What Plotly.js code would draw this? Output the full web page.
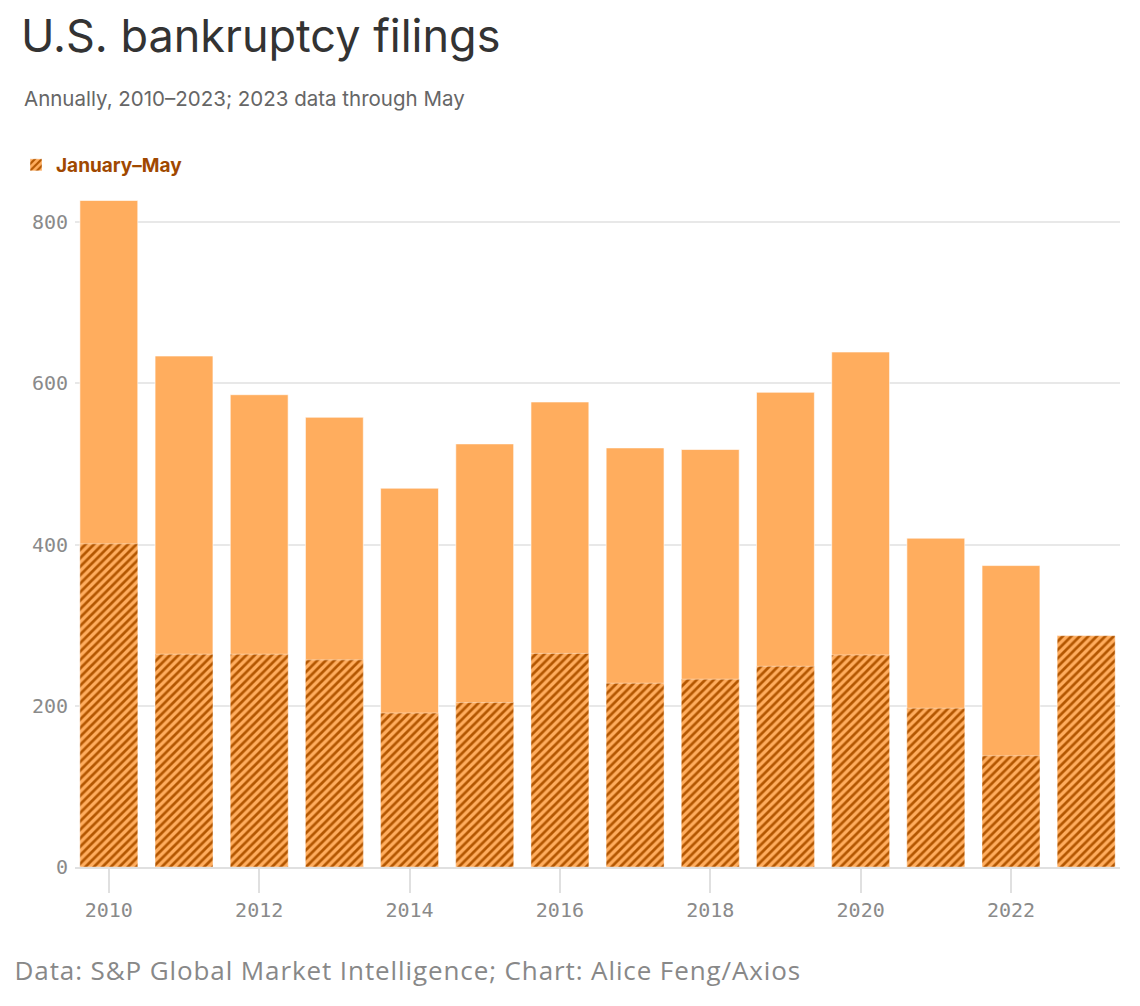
<!DOCTYPE html>
<html>
<head>
<meta charset="utf-8">
<script src="https://cdn.plot.ly/plotly-3.0.1.min.js"></script>
<style>
html,body{margin:0;padding:0;background:#fff;}
#chart{width:1140px;height:1006px;}
g.annotation[data-index="1"] text{letter-spacing:0.9px;}
</style>
</head>
<body>
<div id="chart"></div>
<script>
const years = [2010,2011,2012,2013,2014,2015,2016,2017,2018,2019,2020,2021,2022,2023];
const annualTotal = [827,634,586,558,470,525,577,520,518,589,639,408,374,287];
const janToMay = [401,264,264,257,191,204,265,228,233,249,263,197,138,287];
const yTicks = [0,200,400,600,800];
const xTicks = [2010,2012,2014,2016,2018,2020,2022];

const light = '#ffad5e';
const dark = '#b35600';

const traces = [
  {
    type: 'bar', x: years, y: annualTotal, name: 'Full year',
    marker: {color: light, line: {color: 'rgba(255,255,255,0.6)', width: 1}},
    showlegend: false, hoverinfo: 'x+y'
  },
  {
    type: 'bar', x: years, y: janToMay, name: 'January–May',
    marker: {color: light, line: {color: 'rgba(255,255,255,0.4)', width: 1},
      pattern: {shape: '/', fgcolor: dark, bgcolor: light, size: 6, solidity: 0.45}},
    showlegend: true, hoverinfo: 'x+y'
  }
];

const pl = 75, pt = 190, pw = 1045, ph = 677;
const px = v => (v - pl) / pw;
const py = v => (pt + ph - v) / ph;

const layout = {
  width: 1140, height: 1006,
  margin: {l: pl, r: 1140 - pl - pw, t: pt, b: 1006 - pt - ph},
  paper_bgcolor: '#fff', plot_bgcolor: '#fff',
  barmode: 'overlay', bargap: 0.23,
  font: {family: 'Inter, Roboto, sans-serif'},
  title: {
    text: 'U.S. bankruptcy filings',
    xref: 'container', yref: 'container', x: 21/1140, xanchor: 'left',
    y: 1 - 36/1006, yanchor: 'middle',
    font: {family: 'Inter, Roboto, sans-serif', size: 45, color: '#333'}
  },
  xaxis: {
    range: [2009.55, 2023.45], tickvals: xTicks, ticktext: xTicks.map(String),
    showgrid: false, zeroline: false,
    showline: true, linecolor: '#e0e0e0', linewidth: 2,
    ticks: 'outside', ticklen: 24, tickcolor: '#e0e0e0', tickwidth: 2,
    tickfont: {family: 'DejaVu Sans Mono, monospace', size: 20, color: '#8a8a8a'},
    fixedrange: true
  },
  yaxis: {
    range: [0, 840], tickvals: yTicks, ticktext: yTicks.map(String),
    showgrid: true, gridcolor: '#e8e8e8', gridwidth: 2,
    zeroline: false, showline: false, ticks: '',
    ticklabelstandoff: 6,
    tickfont: {family: 'DejaVu Sans Mono, monospace', size: 20, color: '#8a8a8a'},
    fixedrange: true
  },
  showlegend: true,
  legend: {
    x: px(16), xanchor: 'left', y: py(165), yanchor: 'middle',
    orientation: 'h', bgcolor: 'rgba(0,0,0,0)',
    font: {family: 'Inter, Roboto, sans-serif', size: 19, color: '#a04800', weight: 'bold'},
    itemwidth: 30
  },
  annotations: [
    {
      text: 'Annually, 2010–2023; 2023 data through May',
      xref: 'paper', yref: 'paper', x: px(22), y: py(99), xanchor: 'left', yanchor: 'middle',
      showarrow: false, font: {family: 'Inter, Roboto, sans-serif', size: 20.5, color: '#666'}
    },
    {
      text: 'Data: S&P Global Market Intelligence; Chart: Alice Feng/Axios',
      xref: 'paper', yref: 'paper', x: px(408), y: py(970), xanchor: 'center', yanchor: 'middle',
      showarrow: false, font: {family: 'Open Sans, Roboto, sans-serif', size: 26, color: '#888'}
    }
  ]
};

Plotly.newPlot('chart', traces, layout, {displayModeBar: false, staticPlot: true});
</script>
</body>
</html>
